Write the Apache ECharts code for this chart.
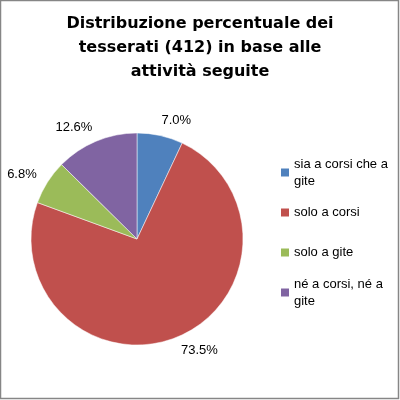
<!DOCTYPE html>
<html>
<head>
<meta charset="utf-8">
<script src="https://cdn.jsdelivr.net/npm/echarts@6/dist/echarts.min.js"></script>
<style>
html, body { margin: 0; padding: 0; background: #fff; }
#chartContainer { width: 400px; height: 400px; }
</style>
</head>
<body>
<div id="chartContainer"></div>
<script>
var titleText = 'Distribuzione percentuale dei\ntesserati (412) in base alle\nattività seguite';
var categories = ['sia a corsi che a gite', 'solo a corsi', 'solo a gite', 'né a corsi, né a gite'];
var percentValues = [7.0, 73.5, 6.8, 12.6];
var sliceColors = ['#4F81BD', '#C0504D', '#9BBB59', '#8064A2'];

var option = null;
var legendTops = [164, 204, 244, 284];

function initOption() {
	var seriesData = [];
	var legends = [];
	for (var i = 0; i < categories.length; i++) {
		seriesData.push({
			name: categories[i],
			value: percentValues[i],
			itemStyle: { color: sliceColors[i] }
		});
		var twoLines = categories[i].length > 15;
		legends.push({
			orient: 'vertical',
			left: 281,
			top: twoLines ? legendTops[i] - 17 : legendTops[i],
			padding: 0,
			itemWidth: 8,
			itemHeight: 8,
			itemGap: 0,
			icon: 'rect',
			itemStyle: { borderWidth: 0 },
			selectedMode: false,
			data: [categories[i]],
			textStyle: {
				fontFamily: 'Liberation Sans',
				fontSize: 13,
				color: '#000',
				lineHeight: 17,
				width: 106,
				overflow: 'break',
				padding: twoLines ? [17, 0, 0, 0] : 0
			}
		});
	}

	option = {
		animation: false,
		backgroundColor: '#fff',
		title: {
			text: titleText,
			left: 'center',
			top: 12,
			padding: 0,
			textStyle: {
				fontFamily: 'DejaVu Sans',
				fontWeight: 'bold',
				fontSize: 16,
				lineHeight: 24,
				color: '#000'
			}
		},
		legend: legends,
		graphic: [{
			type: 'rect',
			shape: { x: 0.5, y: 0.5, width: 398, height: 398 },
			style: { fill: 'none', stroke: '#868686', lineWidth: 1.5 },
			silent: true
		}],
		series: [{
			type: 'pie',
			center: [137, 239],
			radius: 106,
			startAngle: 90,
			clockwise: true,
			itemStyle: { borderColor: '#fff', borderWidth: 0.5 },
			label: {
				show: true,
				position: 'outside',
				overflow: 'none',
				distanceToLabelLine: -2,
				formatter: function(p) { return p.value.toFixed(1) + '%'; },
				fontFamily: 'Liberation Sans',
				fontSize: 13,
				color: '#000'
			},
			labelLine: { show: false, length: 15, length2: 0 },
			emphasis: { disabled: true },
			data: seriesData
		}]
	};
}

initOption();
var chartContainer = echarts.init(document.getElementById('chartContainer'));
chartContainer.setOption(option);
</script>
</body>
</html>
